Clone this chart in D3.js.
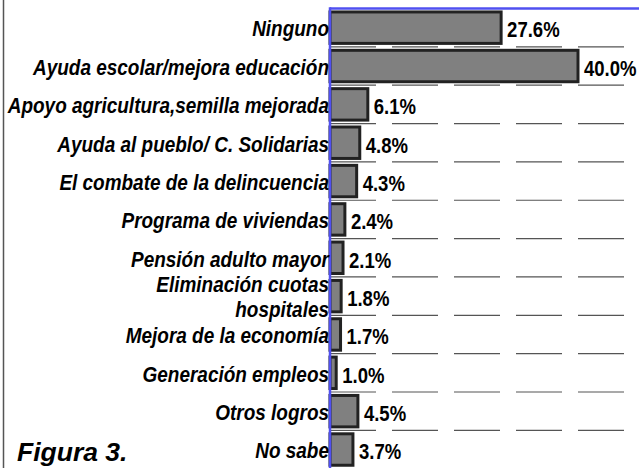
<!DOCTYPE html>
<html><head><meta charset="utf-8">
<script src="https://cdn.jsdelivr.net/npm/d3@7"></script>
<style>
html,body{margin:0;padding:0;background:#fff;}
svg{display:block;}
text{font-family:"Liberation Sans",Arial,sans-serif;font-weight:bold;fill:#000;}
</style></head>
<body><svg id="c" width="639" height="468"></svg>
<script>
const categories = ["Ninguno","Ayuda escolar/mejora educación","Apoyo agricultura,semilla mejorada","Ayuda al pueblo/ C. Solidarias","El combate de la delincuencia","Programa de viviendas","Pensión adulto mayor","Eliminación cuotas\nhospitales","Mejora de la economía","Generación empleos","Otros logros","No sabe"];
const values = [27.6,40.0,6.1,4.8,4.3,2.4,2.1,1.8,1.7,1.0,4.5,3.7];
const xDomain = [0, 50];
const title = "Figura 3.";

(function(){
const svg = d3.select("#c");
const pL = 330, pR = 640, pT = 8.5, pB = 468.7;
const x = d3.scaleLinear().domain(xDomain).range([pL, pR]);
const y = d3.scaleBand().domain(categories).range([pT, pB]).paddingInner(0.18).paddingOuter(0.09);
const step = y.step();

// left border
svg.append("line").attr("x1",3.5).attr("x2",3.5).attr("y1",0).attr("y2",468)
  .attr("stroke","#555").attr("stroke-width",1.5);

// dashed gridlines at band boundaries
const bounds = d3.range(1, categories.length).map(i => pT + i*step);
svg.append("g").selectAll("line").data(bounds).join("line")
  .attr("x1", pL).attr("x2", 639).attr("y1", d=>d).attr("y2", d=>d)
  .attr("stroke","#555").attr("stroke-width",1.2).attr("stroke-dasharray","46,16");

// bars
svg.append("g").selectAll("rect").data(values).join("rect")
  .attr("x", x(0)).attr("y", (d,i)=>y(categories[i]))
  .attr("width", d=>x(d)-x(0)).attr("height", y.bandwidth())
  .attr("fill","#808080").attr("stroke","#222").attr("stroke-width",3);

// axis lines
svg.append("line").attr("x1",pL).attr("x2",639).attr("y1",pT).attr("y2",pT)
  .attr("stroke","#5050f0").attr("stroke-width",2.5);
svg.append("line").attr("x1",pL).attr("x2",pL).attr("y1",pT-1.2).attr("y2",468)
  .attr("stroke","#5050f0").attr("stroke-width",2.5);

// category labels
const lab = svg.append("g").selectAll("g").data(categories).join("g")
  .attr("transform", c => `translate(329,${y(c)+y.bandwidth()/2})`);
lab.each(function(c){
  const lines = c.split("\n");
  const g = d3.select(this);
  const lh = 25;
  lines.forEach((ln,k)=>{
    const off = 8.8 + (k - (lines.length-1)/2)*lh;
    g.append("text").attr("transform",`translate(0,${off}) scale(0.89,1)`)
      .attr("text-anchor","end").attr("font-style","italic").attr("font-size",21.3).text(ln);
  });
});

// value labels
svg.append("g").selectAll("text").data(values).join("text")
  .attr("transform",(d,i)=>`translate(${x(d)+6},${y(categories[i])+y.bandwidth()/2+9.8}) scale(0.85,1)`)
  .attr("font-size",21.8).text(d=>d.toFixed(1)+"%");

// figure caption
svg.append("text").attr("x",17).attr("y",461).attr("font-style","italic").attr("font-size",26.5).text(title);
})();
</script></body></html>
